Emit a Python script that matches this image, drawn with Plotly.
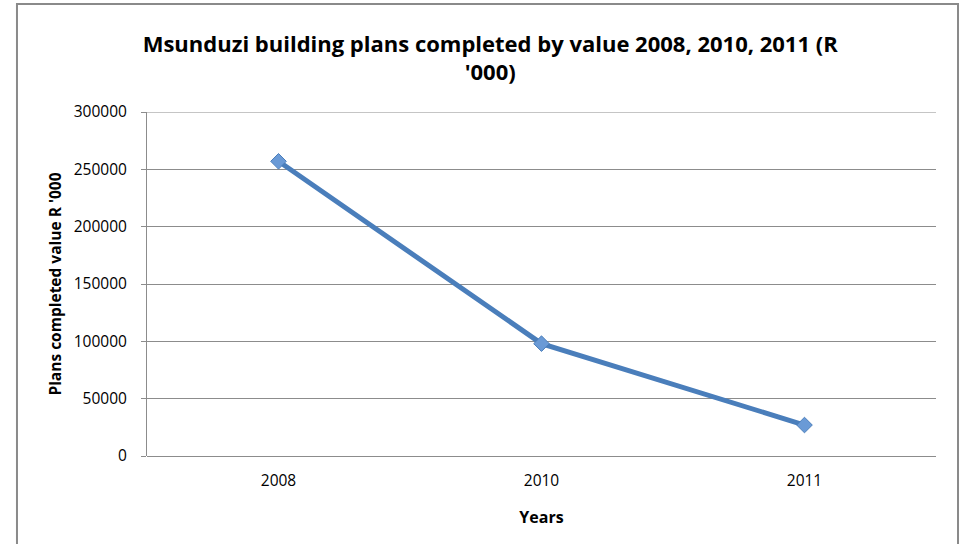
import plotly.graph_objects as go

years = ["2008", "2010", "2011"]
values = [257000, 98000, 27000]
y_ticks = [0, 50000, 100000, 150000, 200000, 250000, 300000]

title_text = "Msunduzi building plans completed by value 2008, 2010, 2011 (R<br>'000)"
x_title = "Years"
y_title = "Plans completed value R '000"

FONT = "Open Sans"
GRID = "#8c8c8c"

fig = go.Figure()
fig.add_trace(go.Scatter(
    x=list(range(len(years))),
    y=values,
    mode="lines+markers",
    line=dict(color="#4a7ebb", width=5),
    marker=dict(symbol="diamond", size=12, color="#6a9ad6",
                line=dict(color="#4a7ebb", width=1)),
    showlegend=False,
    hoverinfo="skip",
))

fig.update_layout(
    width=960, height=544,
    margin=dict(l=147, r=24, t=112, b=88),
    paper_bgcolor="white",
    plot_bgcolor="white",
    font=dict(family=FONT, color="#000000"),
    title=dict(text=title_text, x=0.435, xref="paper", xanchor="center",
               y=0.905, yref="container", yanchor="middle",
               font=dict(family=FONT, size=22, color="#000000", weight="bold")),
    xaxis=dict(
        range=[-0.5, 2.5],
        tickmode="array",
        tickvals=list(range(len(years))),
        ticktext=years,
        showgrid=False,
        zeroline=False,
        showline=False,
        tickfont=dict(family=FONT, size=15.5, color="#000000"),
        ticks="",
        ticklabelstandoff=13,
        title=dict(text=x_title, font=dict(family=FONT, size=16, color="#000000", weight="bold"),
                   standoff=22),
        fixedrange=True,
        automargin=False,
    ),
    yaxis=dict(
        range=[0, y_ticks[-1]],
        tickmode="array",
        tickvals=y_ticks,
        ticktext=[str(v) for v in y_ticks],
        showgrid=True,
        gridcolor=GRID,
        gridwidth=1,
        zeroline=True,
        zerolinecolor=GRID,
        zerolinewidth=1,
        showline=True,
        linecolor=GRID,
        linewidth=1,
        ticks="outside",
        ticklen=5,
        tickcolor=GRID,
        ticklabelstandoff=11,
        tickfont=dict(family=FONT, size=15.5, color="#000000"),
        title=dict(text=y_title, font=dict(family=FONT, size=15.5, color="#000000", weight="bold"),
                   standoff=8),
        fixedrange=True,
        automargin=False,
    ),
)

# top gridline (at the axis maximum, which plotly does not draw)
fig.add_shape(type="line", xref="paper", yref="y",
              x0=0, x1=1, y0=y_ticks[-1], y1=y_ticks[-1],
              line=dict(color=GRID, width=1), layer="below")

# outer chart border (Excel chart area)
fig.add_shape(type="rect", xref="paper", yref="paper",
              x0=-0.1648, x1=1.0279, y0=-0.32, y1=1.314,
              line=dict(color="#8a8a8a", width=2), fillcolor="rgba(0,0,0,0)", layer="below")

fig.write_html("out.html")
